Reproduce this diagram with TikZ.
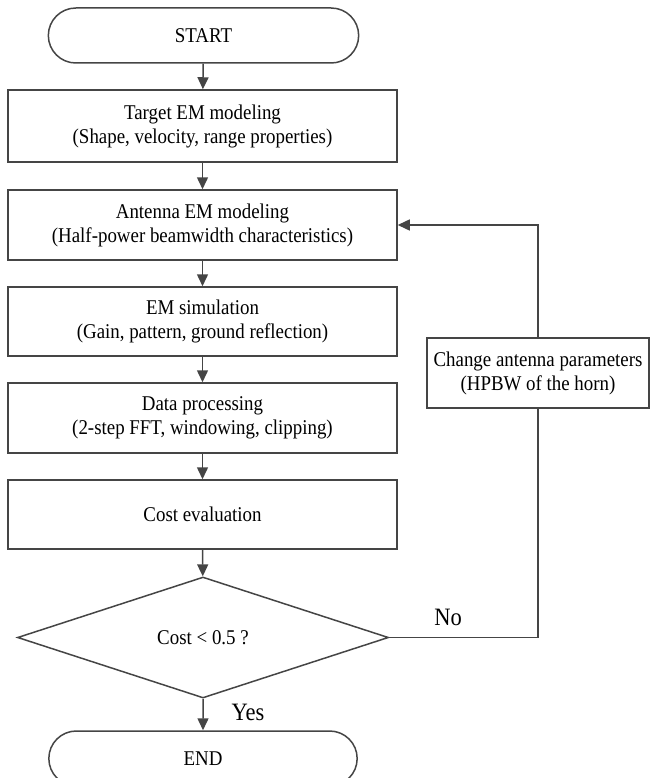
\documentclass[tikz,border=0pt]{standalone}
\usepackage{fontspec}
\setmainfont{Liberation Serif}[FakeStretch=0.9]
\usetikzlibrary{shapes.geometric, shapes.misc, arrows.meta}

\definecolor{linegray}{HTML}{454545}

\tikzset{
  box/.style={draw=linegray, line width=1.5pt, rectangle, minimum width=389pt, minimum height=70pt, align=center, inner sep=2pt},
  term/.style={draw=linegray, line width=1.5pt, rounded rectangle, minimum width=317pt, minimum height=55pt},
  decision/.style={draw=linegray, line width=1.5pt, diamond, minimum width=371pt, minimum height=121pt, aspect=3.07, inner sep=0pt},
  flow/.style={draw=linegray, line width=1.5pt, -{Triangle[length=12pt,width=11pt]}},
  answer/.style={font=\fontsize{25}{30}\selectfont},
}

\begin{document}
\begin{tikzpicture}[x=1pt, y=-1pt, font=\fontsize{21}{24}\selectfont]
        \useasboundingbox (0,0) rectangle (650,778);
        \node[term] (start) at (203.5,35.5) {START};
        \node[box, minimum height=72pt] (target) at (202.5,126) {Target EM modeling\\(Shape, velocity, range properties)};
        \node[box] (antenna) at (202.5,225) {Antenna EM modeling\\(Half-power beamwidth characteristics)};
        \node[box, minimum height=69pt] (emsim) at (202.5,321.5) {EM simulation\\(Gain, pattern, ground reflection)};
        \node[box] (dataproc) at (202.5,418) {Data processing\\(2-step FFT, windowing, clipping)};
        \node[box, minimum height=69pt] (cost) at (202.5,514.5) {Cost evaluation};
        \node[decision] (check) at (203,637.5) {Cost < 0.5 ?};
        \node[term, minimum width=315pt] (end) at (203,758.5) {END};
        \node[box, minimum width=222pt] (change) at (538,373) {Change antenna parameters\\(HPBW of the horn)};
        \coordinate (corner) at (change.south |- check.east);

        \draw[flow] (start) -- (target);
        \draw[flow] (target) -- (antenna);
        \draw[flow] (antenna) -- (emsim);
        \draw[flow] (emsim) -- (dataproc);
        \draw[flow] (dataproc) -- (cost);
        \draw[flow] (cost) -- (check);
        \draw[flow] (check) -- (end);
        \node[answer, right] (yes) at (228,712) {Yes};
        \draw[draw=linegray, line width=1.5pt] (check.east) -- (corner) -- (change.south);
        \node[answer] (no) at (448,617) {No};
        \draw[flow] (change.north) |- (antenna.east);
    \end{tikzpicture}
\end{document}
